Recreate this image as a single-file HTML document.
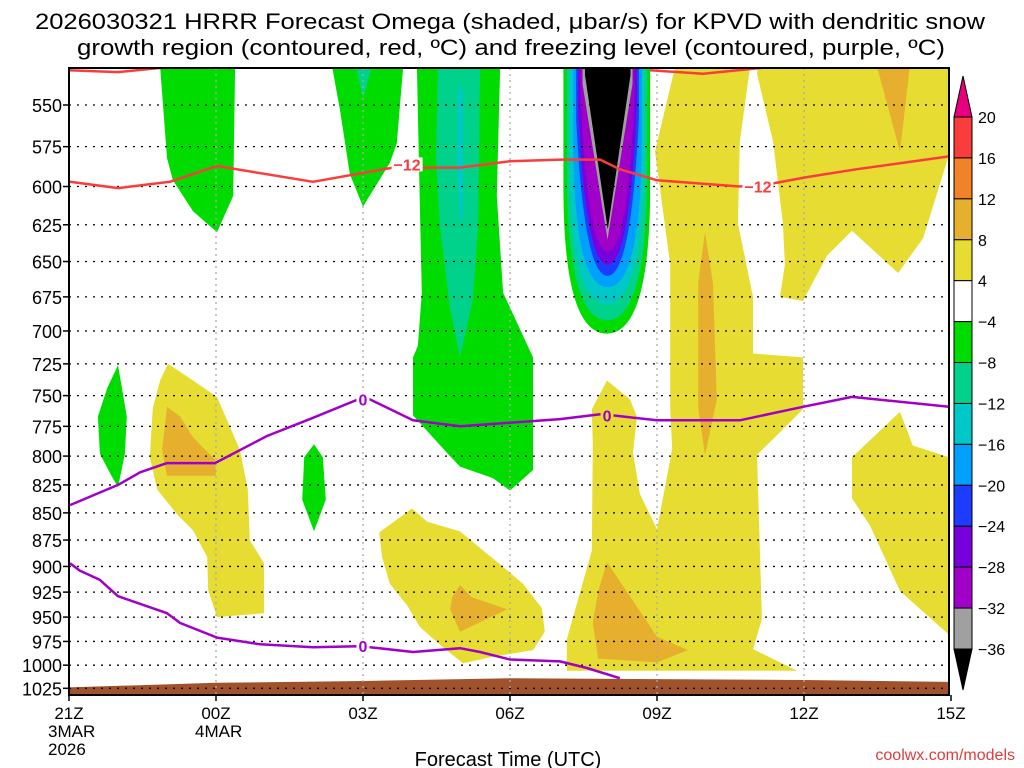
<!DOCTYPE html>
<html><head><meta charset="utf-8"><style>
html,body{margin:0;padding:0;background:#fff;}
svg{display:block;font-family:"Liberation Sans",sans-serif;}
</style></head><body>
<svg id="chart" width="1024" height="768" viewBox="0 0 1024 768" xmlns="http://www.w3.org/2000/svg">
<defs><clipPath id="plotclip"><rect x="69" y="68" width="880" height="627"/></clipPath></defs>
<text x="510" y="29" font-size="22" text-anchor="middle" textLength="950" lengthAdjust="spacingAndGlyphs">2026030321 HRRR Forecast Omega (shaded, μbar/s) for KPVD with dendritic snow</text>
<text x="511" y="55" font-size="22" text-anchor="middle" textLength="868" lengthAdjust="spacingAndGlyphs">growth region (contoured, red, ºC) and freezing level (contoured, purple, ºC)</text>
<g id="shades" clip-path="url(#plotclip)"></g>
<g id="grid"></g>
<g id="contours" clip-path="url(#plotclip)"></g>
<g id="axes"></g>
<g id="cbar"></g>
<text x="508" y="766" font-size="20" text-anchor="middle">Forecast Time (UTC)</text>
<text x="1015" y="760" font-size="16" fill="#e03c3c" text-anchor="end">coolwx.com/models</text>
</svg>
<script>
// ---- data (hour from 21Z, pressure hPa) ----
const pressureTicks=[550,575,600,625,650,675,700,725,750,775,800,825,850,875,900,925,950,975,1000,1025];
const hourTicks=[0,3,6,9,12,15,18];
const hourLabels=["21Z","00Z","03Z","06Z","09Z","12Z","15Z"];
const dateLabels=[["3MAR","2026"],["4MAR"],[],[],[],[],[]];
const cbarLevels=[20,16,12,8,4,-4,-8,-12,-16,-20,-24,-28,-32,-36];
const cbarColors=["#fa3c3c","#f08228","#e6af2d","#e6dc32","#ffffff","#00dc00","#00d28c","#00c8c8","#00a0ff","#1e3cff","#7800dc","#a000c8","#a0a0a0"];
// yellow (4..8) regions
const yellowCol=[[12.37,528],[13.90,528],[13.69,572],[13.65,624],[13.96,675],[13.96,717],[14.98,720],[14.98,761],[14.04,799],[14.10,885],[14.14,952],[13.96,983],[14.86,1006],[10.16,1006],[10.16,973],[10.67,885],[10.69,790],[10.67,761],[10.98,738],[11.45,753],[11.59,767],[11.51,797],[11.65,833],[12.0,865],[12.31,794],[12.27,761],[12.27,652],[11.96,578]];
const yellowRightTop=[[14.06,528],[17.96,528],[17.96,580],[17.43,634],[16.92,658],[15.98,629],[15.47,646],[14.98,678],[14.51,675],[14.61,652],[14.57,624],[14.37,572],[14.04,532]];
const yellowRightLow=[[16.96,763],[17.22,791],[17.96,801],[17.96,968],[16.96,924],[16.35,862],[15.98,837],[15.98,801]];
const yellowLeft=[[2.02,725],[2.53,738],[3.02,751],[3.49,795],[3.65,829],[3.69,875],[3.98,897],[3.98,946],[3.02,950],[2.84,923],[2.82,891],[2.53,866],[2.2,851],[1.8,829],[1.65,801],[1.71,760],[1.86,738]];
const yellowMid=[[7.0,846],[7.31,858],[7.98,867],[9.0,906],[9.27,917],[9.65,941],[9.71,965],[9.47,984],[8.65,991],[8.04,998],[7.63,981],[7.16,960],[6.9,938],[6.55,917],[6.39,891],[6.33,868]];
// orange (8..12) regions
const orangeLeft=[[2.0,759],[2.27,767],[2.53,784],[2.98,803],[3.0,817],[2.0,817],[1.9,795]];
const orangeMid=[[7.98,918],[8.22,930],[8.94,942],[7.98,965],[7.78,942],[7.82,930]];
const orangeCol=[[12.98,630],[13.14,665],[13.22,753],[12.98,799],[12.84,760],[12.84,665]];
const orangeColLow=[[10.98,896],[12.0,970],[12.63,984],[12.0,997],[10.80,993],[10.69,956],[10.80,924]];
const orangeRight=[[16.49,528],[17.16,528],[16.96,578]];
// green (-4..-8) regions
const green1=[[1.86,528],[3.39,528],[3.35,606],[3.02,630],[2.53,616],[2.12,596],[2.0,582]];
const green2=[[5.37,528],[6.82,528],[6.69,573],[6.55,585],[6.0,613],[5.73,592],[5.53,553]];
const green3=[[7.10,528],[8.80,528],[8.73,606],[8.86,672],[9.47,720],[9.47,812],[9.0,830],[8.65,819],[7.98,809],[7.73,798],[7.02,766],[7.02,720],[7.12,711],[7.20,672],[7.16,611]];
const greenSmallA=[[1.0,726],[1.18,767],[1.14,798],[1.0,827],[0.84,815],[0.63,798],[0.59,767],[0.78,744]];
const greenSmallB=[[5.0,790],[5.18,801],[5.24,838],[5.0,867],[4.76,838],[4.80,801]];
const teal2=[[5.86,528],[6.18,528],[6.0,546]];
const teal3=[[7.53,528],[8.39,528],[8.35,626],[8.24,677],[7.98,720],[7.78,684],[7.57,626],[7.49,582]];
const cyan3=[[7.94,537],[8.04,543],[8.04,620],[7.98,622],[7.92,585]];
// convective core nested layers: left hour, right hour, bottom pressure
const coreLeft=[10.09,10.16,10.22,10.29,10.35,10.39,10.44,10.48,10.53];
const coreRight=[11.86,11.80,11.73,11.69,11.63,11.59,11.54,11.50,11.46];
const coreBottom=[702,692,680,668,660,652,643,635,628];
const coreColors=["#00dc00","#00d28c","#00c8c8","#00a0ff","#1e3cff","#7800dc","#a000c8","#a0a0a0","#000000"];
// ground surface pressure
const groundHours=[0,3,6,9,12,15,18];
const groundP=[1024,1019,1017,1014,1015,1016,1018];
// -12C contour (dendritic growth zone)
const redHours=[0.02,1.0,2.06,3.02,4.98,6.61,7.98,9.0,10.02,10.84,11.24,12.0,13.69,14.37,15.06,16.08,17.96];
const redP=[597,601,597,587,597,588,588,584,583,583,589,596,600,598,594,589,581];
const redTopAHours=[0,1.0,2.12];
const redTopAP=[530,531,528];
const redTopBHours=[11.86,12.94,14.37];
const redTopBP=[530,532,528];
// 0C freezing level contours
const fzUpHours=[0.02,1.0,1.45,2.0,2.98,4.04,4.98,5.90,6.14,7.02,7.98,10.02,10.84,11.10,12.0,13.69,14.98,15.98,17.96];
const fzUpP=[843,825,814,806,806,783,768,753,753,770,775,769,765,766,770,770,759,751,759];
const fzLowHours=[0.02,0.22,0.63,1.0,2.0,2.27,3.02,3.90,4.98,5.90,6.14,7.02,7.98,8.39,9.0,10.02,10.57,11.24];
const fzLowP=[897,904,913,929,946,956,971,978,981,980,981,986,982,986,994,996,1003,1014];

const NS="http://www.w3.org/2000/svg";
const X=h=>69+h*49;
const Y=p=>105+Math.log(p/550)*937;
function mk(tag,attrs,parent){const e=document.createElementNS(NS,tag);for(const k in attrs)e.setAttribute(k,attrs[k]);parent.appendChild(e);return e;}
const shades=document.getElementById('shades');
function poly(pts,color,name){
  const e=mk('polygon',{points:pts.map(q=>X(q[0]).toFixed(1)+','+Y(q[1]).toFixed(1)).join(' '),fill:color},shades);
  
  
}
const YEL="#e6dc32",ORA="#e6af2d",GRN="#00dc00";
poly(yellowCol,YEL,'omega-4-8-column');
poly(yellowRightTop,YEL,'omega-4-8-upper-right');
poly(yellowRightLow,YEL,'omega-4-8-lower-right');
poly(yellowLeft,YEL,'omega-4-8-left');
poly(yellowMid,YEL,'omega-4-8-middle');
poly(orangeLeft,ORA,'omega-8-12-left');
poly(orangeMid,ORA,'omega-8-12-middle');
poly(orangeCol,ORA,'omega-8-12-column');
poly(orangeColLow,ORA,'omega-8-12-low');
poly(orangeRight,ORA,'omega-8-12-upper-right');
poly(green1,GRN,'omega-neg4-neg8-a');
poly(green2,GRN,'omega-neg4-neg8-b');
poly(green3,GRN,'omega-neg4-neg8-c');
poly(greenSmallA,GRN,'omega-neg4-neg8-d');
poly(greenSmallB,GRN,'omega-neg4-neg8-e');
poly(teal2,"#00d28c",'omega-neg8-neg12-a');
poly(teal3,"#00d28c",'omega-neg8-neg12-b');
poly(cyan3,"#00c8c8",'omega-neg12-neg16-a');
// core
const sideFrac=[0.45,0.4,0.35,0.3,0.25,0.2,0.15,0.1,0.05];
for(let i=0;i<coreLeft.length;i++){
  const L=X(coreLeft[i]),R=X(coreRight[i]),top=Y(520),yb=Y(coreBottom[i]),cx=(L+R)/2;
  const ym=Y(528)+(yb-Y(528))*sideFrac[i];
  let d;
  if(i>=7){
    d=`M${L},${top} L${L},${ym} L${cx},${yb} L${R},${ym} L${R},${top} Z`;
  }else{
    const k=i>=4?0.5:1;
    d=`M${L},${top} L${L},${ym} Q${L+(cx-L)*(1-k)*0.5},${yb} ${cx},${yb} Q${R-(R-cx)*(1-k)*0.5},${yb} ${R},${ym} L${R},${top} Z`;
  }
  const e=mk('path',{d:d,fill:coreColors[i]},shades);
  
  
}
// ground
{
  let d='M'+X(groundHours[0])+','+Y(1040);
  for(let i=0;i<groundHours.length;i++)d+=' L'+X(groundHours[i])+','+Y(groundP[i]).toFixed(1);
  d+=' L'+X(groundHours[groundHours.length-1])+','+Y(1040)+' Z';
  const e=mk('path',{d:d,fill:'#a0522d'},shades);
  
  
}
// grid
const grid=document.getElementById('grid');
pressureTicks.forEach(p=>{
  const e=mk('line',{x1:69,x2:949,y1:Y(p),y2:Y(p),stroke:'#000','stroke-width':1.3,'stroke-dasharray':'2,6'},grid);
  
  
});
hourTicks.slice(1,-1).forEach(h=>{
  const e=mk('line',{x1:X(h),x2:X(h),y1:68,y2:695,stroke:'#aaa','stroke-width':1.3,'stroke-dasharray':'2,4'},grid);
  
  
});
// contours
const cont=document.getElementById('contours');
function line(hs,ps,color,name){
  const e=mk('polyline',{points:hs.map((h,i)=>X(h).toFixed(1)+','+Y(ps[i]).toFixed(1)).join(' '),fill:'none',stroke:color,'stroke-width':2.5,'stroke-linejoin':'round'},cont);
  
  
}
function clabel(h,p,txt,color,name,bg){
  const w=txt.length*9+4;
  const r=mk('rect',{x:X(h)-w/2,y:Y(p)-7,width:w,height:14,fill:bg},cont);
  
  
  const e=mk('text',{x:X(h),y:Y(p)+6,'font-size':16,'font-weight':'bold',fill:color,'text-anchor':'middle'},cont);
  e.textContent=txt;
  
  
}
const RED="#fa3c3c",PUR="#a000c8";
line(redHours,redP,RED,'minus12c-contour');
line(redTopAHours,redTopAP,RED,'minus12c-contour-top-left');
line(redTopBHours,redTopBP,RED,'minus12c-contour-top-right');
line(fzUpHours,fzUpP,PUR,'freezing-level-upper');
line(fzLowHours,fzLowP,PUR,'freezing-level-lower');
clabel(6.9,586,'−12',RED,'contour-label-minus12','#ffffff');
clabel(14.06,600,'−12',RED,'contour-label-minus12','#ffffff');
clabel(6.0,753,'0',PUR,'contour-label-zero','#ffffff');
clabel(10.98,766,'0',PUR,'contour-label-zero','#e6dc32');
clabel(6.0,980,'0',PUR,'contour-label-zero','#ffffff');
// axes
const axes=document.getElementById('axes');
{const e=mk('rect',{x:69,y:68,width:880,height:627,fill:'none',stroke:'#000','stroke-width':2},axes);
}
pressureTicks.forEach(p=>{
  const t=mk('line',{x1:63,x2:69,y1:Y(p),y2:Y(p),stroke:'#000','stroke-width':1.5},axes);
  
  
  const e=mk('text',{x:62,y:Y(p)+7,'font-size':18,'text-anchor':'end'},axes);
  e.textContent=p;
  
  
});
hourTicks.forEach((h,i)=>{
  const t=mk('line',{x1:X(h),x2:X(h),y1:695,y2:701,stroke:'#000','stroke-width':1.5},axes);
  
  
  const e=mk('text',{x:X(h),y:719,'font-size':17,'text-anchor':'middle'},axes);
  e.textContent=hourLabels[i];
  
  
  dateLabels[i].forEach((s,j)=>{
    const d=mk('text',{x:X(h)-21,y:737+j*18,'font-size':17},axes);
    d.textContent=s;
    
    
  });
});
// colorbar
const cb=document.getElementById('cbar');
const cbY=i=>117+i*(649-117)/(cbarLevels.length-1);
{const e=mk('polygon',{points:`954,117 972,117 963,76`,fill:'#e6007f',stroke:'#000','stroke-width':1},cb);
}
{const e=mk('polygon',{points:`954,649 972,649 963,690`,fill:'#000',stroke:'#000','stroke-width':1},cb);
}
cbarColors.forEach((c,i)=>{
  const e=mk('rect',{x:954,y:cbY(i),width:18,height:cbY(i+1)-cbY(i),fill:c,stroke:'#000','stroke-width':1},cb);
  
  
});
cbarLevels.forEach((v,i)=>{
  const e=mk('text',{x:978,y:cbY(i)+6,'font-size':16},cb);
  e.textContent=v<0?'−'+Math.abs(v):String(v);
  
  
});
</script>
</body></html>
